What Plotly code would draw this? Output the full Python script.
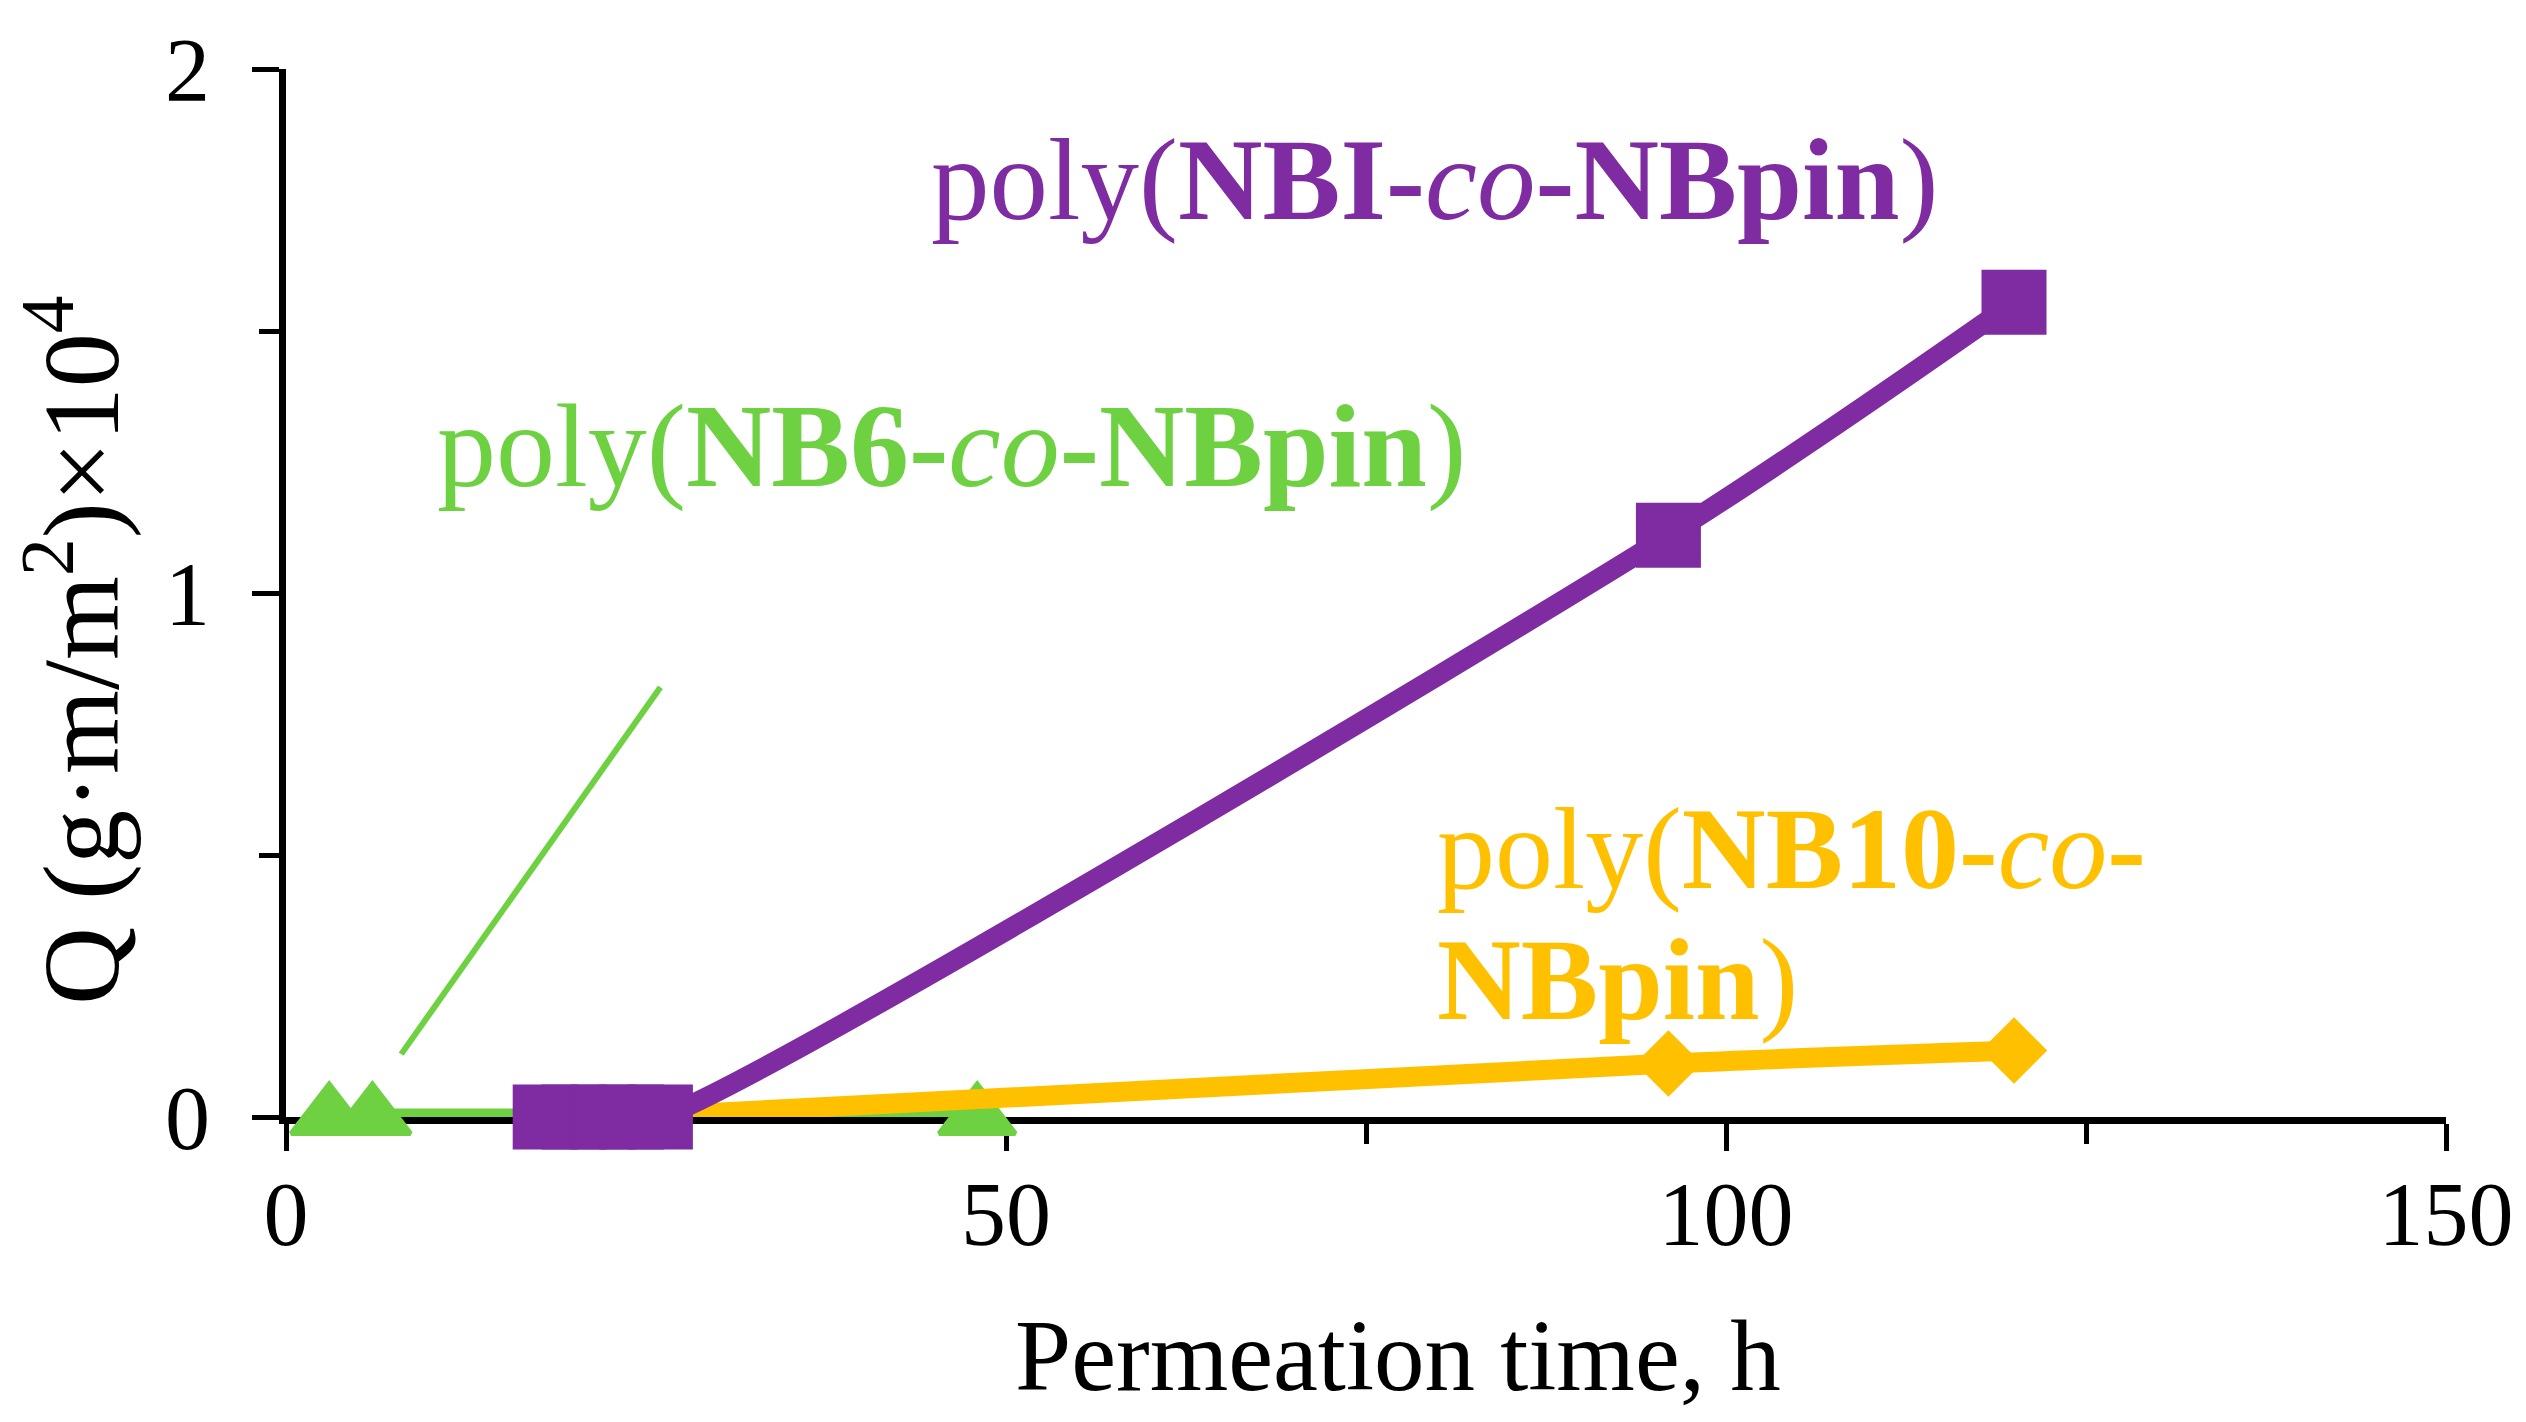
import plotly.graph_objects as go

# ---------------- data ----------------
nb6_time = [3, 6, 48]
nb6_q = [0.0, 0.0, 0.0]

nb10_time = [24, 96, 120]
nb10_q = [0.0, 0.102, 0.127]

nbi_time = [18, 20, 22, 24, 26, 96, 120]
nbi_q = [0.0, 0.0, 0.0, 0.0, 0.0, 1.11, 1.555]

# pointer line from NB6 label towards its series
pointer_time = [8, 26]
pointer_q = [0.12, 0.82]

x_ticks = [0, 50, 100, 150]
y_ticks = [0, 1, 2]

label_nbi = "poly(<b>NBI-</b><i>co</i><b>-NBpin</b>)"
label_nb6 = "poly(<b>NB6-</b><i>co</i><b>-NBpin</b>)"
label_nb10_a = "poly(<b>NB10-</b><i>co</i><b>-</b>"
label_nb10_b = "<b>NBpin</b>)"
x_title = "Permeation time, h"
y_title = "Q (g\u00b7m/m<sup>2</sup>)\u00d710<sup>4</sup>"

PURPLE = "#7F2BA2"
GREEN = "#6DD141"
GOLD = "#FFC000"
FONT = "Liberation Serif"

fig = go.Figure()

fig.add_trace(go.Scatter(
    x=pointer_time, y=pointer_q, mode="lines",
    line=dict(color=GREEN, width=6), cliponaxis=False, showlegend=False))

fig.add_trace(go.Scatter(
    x=nb6_time, y=nb6_q, mode="lines+markers",
    line=dict(color=GREEN, width=17),
    marker=dict(symbol="triangle-up", size=66, color=GREEN,
                line=dict(color=GREEN, width=5)),
    cliponaxis=False, showlegend=False))

fig.add_trace(go.Scatter(
    x=nb10_time, y=nb10_q, mode="lines+markers",
    line=dict(color=GOLD, width=20, shape="spline", smoothing=0.8),
    marker=dict(symbol="diamond", size=48, color=GOLD,
                line=dict(color=GOLD, width=3)),
    cliponaxis=False, showlegend=False))

fig.add_trace(go.Scatter(
    x=nbi_time, y=nbi_q, mode="lines+markers",
    line=dict(color=PURPLE, width=20, shape="spline", smoothing=0.8),
    marker=dict(symbol="square", size=62, color=PURPLE,
                line=dict(color=PURPLE, width=3)),
    cliponaxis=False, showlegend=False))

axis_common = dict(
    showline=True, linecolor="black", linewidth=7,
    showgrid=False, zeroline=False,
    ticks="outside", ticklen=27, tickwidth=5, tickcolor="black",
    tickfont=dict(family=FONT, size=90, color="black"),
    layer="below traces",
    ticklabeloverflow="allow",
)

fig.update_xaxes(
    range=[0, 150], tickvals=x_ticks, ticktext=[str(v) for v in x_ticks],
    minor=dict(dtick=25, ticks="outside", ticklen=20, tickwidth=5, tickcolor="black"),
    ticklabelstandoff=-14,
    **axis_common)

fig.update_yaxes(
    range=[0, 2], tickvals=y_ticks, ticktext=[str(v) for v in y_ticks],
    minor=dict(dtick=0.5, ticks="outside", ticklen=20, tickwidth=5, tickcolor="black"),
    ticklabelstandoff=24,
    **axis_common)

annotations = [
    dict(x=79.8, y=1.79, xref="x", yref="y", text=label_nbi, showarrow=False,
         xanchor="center", yanchor="middle",
         font=dict(family=FONT, size=117, color=PURPLE)),
    dict(x=46.2, y=1.28, xref="x", yref="y", text=label_nb6, showarrow=False,
         xanchor="center", yanchor="middle",
         font=dict(family=FONT, size=118, color=GREEN)),
    dict(x=79.8, y=0.512, xref="x", yref="y", text=label_nb10_a, showarrow=False,
         xanchor="left", yanchor="middle",
         font=dict(family=FONT, size=116, color=GOLD)),
    dict(x=79.8, y=0.262, xref="x", yref="y", text=label_nb10_b, showarrow=False,
         xanchor="left", yanchor="middle",
         font=dict(family=FONT, size=116, color=GOLD)),
    dict(x=0.515, y=-0.228, xref="paper", yref="paper", text=x_title, showarrow=False,
         xanchor="center", yanchor="middle",
         font=dict(family=FONT, size=101, color="black")),
    dict(x=-0.0985, y=0.445, xref="paper", yref="paper", text=y_title, showarrow=False,
         xanchor="center", yanchor="middle", textangle=-90,
         font=dict(family=FONT, size=108, color="black")),
]

fig.update_layout(
    width=2526, height=1422, autosize=False,
    margin=dict(l=278, r=88, t=40, b=313, pad=0),
    paper_bgcolor="white", plot_bgcolor="white",
    annotations=annotations,
    showlegend=False,
)

fig.write_html("out.html")
